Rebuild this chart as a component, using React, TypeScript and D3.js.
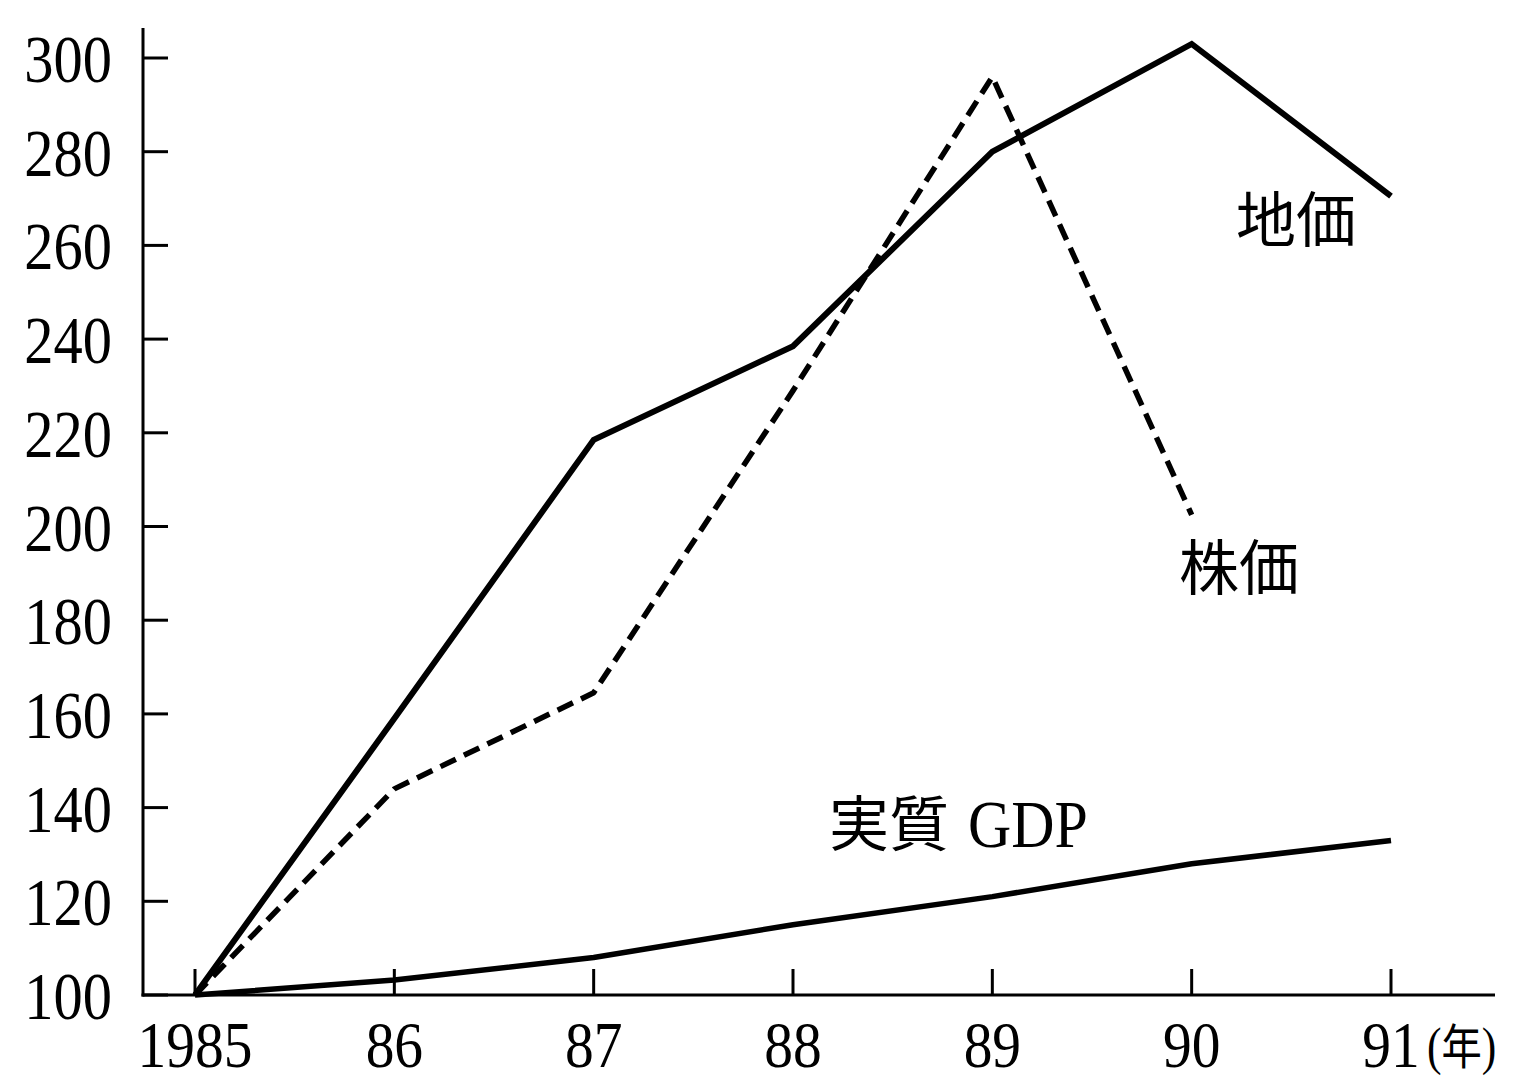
import React from "react";
import * as d3 from "d3";

const years = [1985, 1986, 1987, 1988, 1989, 1990, 1991];
const xTickLabels = ["1985", "86", "87", "88", "89", "90", "91"];
const yTicks = [100, 120, 140, 160, 180, 200, 220, 240, 260, 280, 300];
const landPrice = [100, 159, 218.5, 238.5, 280, 303, 270.5];
const stockYears = [1985, 1986, 1987, 1988, 1989, 1990];
const stockPrice = [100, 144, 164.5, 229, 296, 202.5];
const realGdp = [100, 103.2, 108, 115, 121, 128, 133];

const W = 1536;
const H = 1083;
const SERIF = "'Liberation Serif', 'Times New Roman', serif";
const CJK = "'Noto Sans CJK JP', 'Noto Sans CJK SC', sans-serif";

export default function App() {
  const x = d3.scaleLinear().domain([1985, 1991]).range([195, 1391]);
  const y = d3.scaleLinear().domain([100, 300]).range([995, 58]);
  const axisX = 143;
  const axisY = 995;

  const line = d3
    .line<[number, number]>()
    .x((d) => x(d[0]))
    .y((d) => y(d[1]));

  const landPts = years.map((yr, i) => [yr, landPrice[i]] as [number, number]);
  const stockPts = stockYears.map((yr, i) => [yr, stockPrice[i]] as [number, number]);
  const gdpPts = years.map((yr, i) => [yr, realGdp[i]] as [number, number]);

  return (
    <svg
      width={W}
      height={H}
      viewBox={`0 0 ${W} ${H}`}
      style={{ position: "absolute", left: 0, top: 0, background: "#fff", display: "block" }}
    >
      <rect x={0} y={0} width={W} height={H} fill="#fff" />
      {/* axes */}
      <g stroke="#000" strokeWidth={3} fill="none">
        <line x1={axisX} y1={28} x2={axisX} y2={axisY + 1.5} />
        <line x1={axisX - 1.5} y1={axisY} x2={1495} y2={axisY} />
        {yTicks.map((t) => (
          <line key={"yt" + t} x1={axisX} x2={axisX + 25} y1={y(t)} y2={y(t)} />
        ))}
        {years.map((t) => (
          <line key={"xt" + t} x1={x(t)} x2={x(t)} y1={axisY} y2={axisY - 26} />
        ))}
      </g>
      {/* y tick labels */}
      {yTicks.map((t) => (
        <text
          key={"yl" + t}
          transform={`translate(112, ${y(t) + 24}) scale(0.86, 1)`}
          textAnchor="end"
          fontFamily={SERIF}
          fontSize={68}
          fill="#000"
        >
          {String(t)}
        </text>
      ))}
      {/* x tick labels */}
      {years.map((t, i) => (
        <text
          key={"xl" + t}
          transform={`translate(${x(t)}, 1067) scale(0.87, 1)`}
          textAnchor="middle"
          fontFamily={SERIF}
          fontSize={66}
          fill="#000"
        >
          {xTickLabels[i]}
        </text>
      ))}
      <text
        transform="translate(1427, 1064) scale(0.84, 1)"
        fontFamily={SERIF}
        fontSize={52}
        fill="#000"
      >
        (<tspan fontFamily={CJK} fontSize={48}>年</tspan>)
      </text>
      {/* series */}
      <path d={line(gdpPts) || ""} fill="none" stroke="#000" strokeWidth={5.5} strokeLinejoin="round" />
      <path
        d={line(stockPts) || ""}
        fill="none"
        stroke="#000"
        strokeWidth={5.5}
        strokeDasharray="17 9"
        strokeLinejoin="round"
      />
      <path d={line(landPts) || ""} fill="none" stroke="#000" strokeWidth={6} strokeLinejoin="miter" />
      {/* labels */}
      <text x={1236} y={242} fontFamily={CJK} fontSize={60} fill="#000">地価</text>
      <text x={1179} y={590} fontFamily={CJK} fontSize={60} fill="#000">株価</text>
      <text x={829} y={846} fontFamily={CJK} fontSize={60} fill="#000">実質</text>
      <text
        transform="translate(968, 847) scale(0.88, 1)"
        fontFamily={SERIF}
        fontSize={68}
        fill="#000"
      >
        GDP
      </text>
    </svg>
  );
}
